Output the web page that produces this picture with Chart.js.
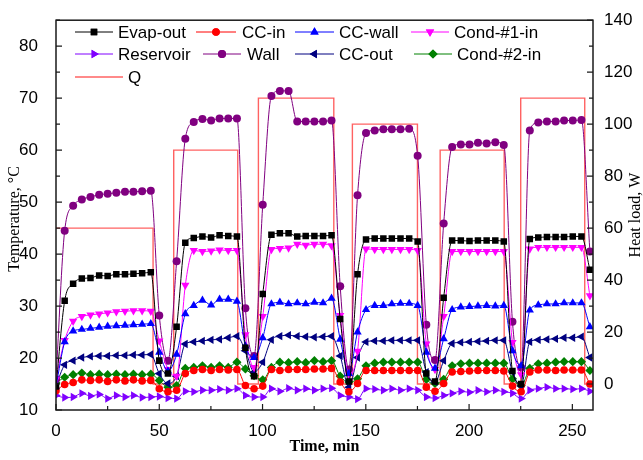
<!DOCTYPE html>
<html>
<head>
<meta charset="utf-8">
<script src="https://cdn.jsdelivr.net/npm/chart.js"></script>
<style>
  html, body { margin: 0; padding: 0; background: #fff; }
  #wrap { width: 643px; height: 460px; }
</style>
</head>
<body>
<div id="wrap"><canvas id="chart" width="643" height="460"></canvas></div>
<script>
// sample times, min
const time = [0, 4.2, 8.3, 12.5, 16.7, 20.9, 25.0, 29.2, 33.4, 37.5, 41.7, 45.9, 50.0, 54.2, 58.4, 62.6,
  66.7, 70.9, 75.1, 79.2, 83.4, 87.6, 91.7, 95.9, 100.1, 104.3, 108.4, 112.6, 116.8, 120.9, 125.1, 129.3,
  133.4, 137.6, 141.8, 146.0, 150.1, 154.3, 158.5, 162.6, 166.8, 171.0, 175.1, 179.3, 183.5, 187.7, 191.8,
  196.0, 200.2, 204.3, 208.5, 212.7, 216.8, 221.0, 225.2, 229.4, 233.5, 237.7, 241.9, 246.0, 250.2, 254.4, 258.5];

// temperatures, °C
const evapOut = [14.5, 31.0, 34.3, 35.3, 35.4, 35.9, 35.8, 36.1, 36.1, 36.2, 36.3, 36.5, 19.5, 17.0, 26.0, 42.2,
  43.1, 43.4, 43.2, 43.6, 43.5, 43.4, 22.0, 16.5, 32.3, 43.7, 44.0, 44.0, 43.4, 43.5, 43.5, 43.5,
  43.6, 27.5, 15.5, 36.1, 42.8, 43.0, 43.0, 43.0, 43.0, 43.0, 42.4, 17.0, 15.5, 31.6, 42.6,
  42.6, 42.5, 42.6, 42.6, 42.6, 42.4, 17.5, 15.0, 42.9, 43.2, 43.3, 43.3, 43.3, 43.4, 43.4, 37.0];
const ccIn = [13.7, 14.9, 15.3, 15.8, 15.7, 15.8, 15.5, 15.8, 15.6, 15.8, 15.6, 15.7, 14.1, 13.5, 13.8, 17.0,
  17.6, 17.8, 17.6, 17.8, 17.7, 17.8, 14.7, 14.1, 14.6, 17.8, 17.6, 17.8, 17.8, 17.8, 17.9, 17.9,
  18.0, 15.4, 13.5, 15.1, 17.6, 17.6, 17.6, 17.6, 17.6, 17.6, 17.6, 14.4, 13.6, 15.1, 17.3,
  17.4, 17.5, 17.6, 17.6, 17.6, 17.5, 14.6, 13.5, 17.3, 17.7, 17.7, 17.6, 17.7, 17.7, 17.7, 15.0];
const ccWall = [14.5, 23.1, 25.2, 25.5, 25.7, 25.9, 26.1, 26.2, 26.3, 26.4, 26.5, 26.6, 21.1, 17.5, 20.7, 28.5,
  30.1, 31.1, 30.2, 31.3, 31.3, 30.9, 22.3, 20.1, 23.9, 30.4, 30.7, 30.4, 30.6, 30.4, 30.7, 30.6,
  31.5, 23.6, 17.0, 25.0, 29.3, 30.1, 30.1, 30.4, 30.5, 30.5, 30.1, 21.1, 18.0, 23.7, 29.3,
  29.8, 29.9, 30.0, 30.1, 30.0, 30.1, 21.4, 18.5, 29.2, 30.2, 30.4, 30.4, 30.6, 30.6, 30.6, 26.0];
const cond1In = [16.0, 23.4, 27.1, 28.0, 28.3, 28.5, 28.7, 28.9, 29.0, 29.1, 29.1, 29.0, 23.3, 17.8, 16.5, 34.0,
  40.7, 40.5, 40.6, 40.8, 40.7, 40.7, 24.5, 18.2, 28.0, 40.9, 41.1, 41.2, 41.9, 41.7, 41.9, 41.9,
  41.6, 28.2, 16.8, 21.3, 41.0, 40.9, 40.9, 40.9, 40.9, 40.9, 40.7, 22.7, 17.8, 28.0, 40.5,
  40.5, 40.5, 40.5, 40.5, 40.5, 40.5, 23.0, 16.8, 41.0, 41.3, 41.3, 41.3, 41.3, 41.3, 41.3, 32.0];
const reservoir = [12.8, 12.4, 12.5, 13.2, 12.7, 13.0, 12.2, 12.8, 12.5, 12.8, 12.4, 12.5, 12.6, 12.3, 12.2, 13.6,
  13.5, 13.8, 13.8, 14.0, 13.8, 14.1, 12.8, 12.5, 12.5, 14.1, 13.6, 14.2, 13.8, 14.1, 13.8, 14.1,
  14.2, 12.8, 12.5, 12.1, 14.1, 14.0, 13.8, 14.1, 13.8, 14.1, 13.8, 12.5, 12.3, 12.8, 13.2,
  13.6, 13.4, 13.8, 13.5, 13.8, 13.5, 13.2, 12.2, 13.8, 14.1, 14.4, 14.1, 14.1, 14.0, 14.1, 13.6];
const wall = [15.9, 44.5, 49.3, 50.5, 51.0, 51.4, 51.6, 51.8, 52.0, 52.0, 52.1, 52.2, 28.2, 19.5, 38.6, 62.2,
  65.4, 66.0, 65.7, 66.1, 66.1, 66.1, 29.6, 20.4, 49.5, 70.4, 71.4, 71.4, 65.5, 65.5, 65.5, 65.5,
  65.7, 33.8, 17.8, 51.3, 63.3, 63.8, 64.0, 64.0, 64.0, 64.1, 58.9, 26.4, 19.6, 45.9, 60.6,
  61.1, 61.1, 61.4, 61.3, 61.5, 61.0, 27.0, 18.2, 63.8, 65.3, 65.5, 65.5, 65.7, 65.7, 65.8, 40.5];
const ccOut = [14.7, 18.7, 19.5, 20.1, 20.3, 20.4, 20.4, 20.5, 20.5, 20.6, 20.6, 20.7, 17.0, 15.1, 16.5, 22.7,
  23.1, 23.3, 23.5, 23.6, 23.9, 24.2, 21.4, 17.3, 19.2, 23.5, 24.2, 24.4, 24.2, 24.1, 24.0, 24.1,
  24.2, 20.4, 14.4, 20.1, 23.1, 23.3, 23.3, 23.4, 23.4, 23.4, 23.4, 17.3, 15.4, 19.5, 22.8,
  23.0, 23.1, 23.2, 23.3, 23.4, 23.4, 17.3, 14.6, 23.1, 23.5, 23.6, 23.7, 23.9, 23.9, 24.1, 20.1];
const cond2In = [15.2, 16.3, 16.8, 17.1, 16.8, 16.9, 16.8, 16.9, 16.8, 16.9, 16.8, 16.9, 15.7, 14.4, 14.7, 18.0,
  18.2, 18.5, 18.2, 18.5, 18.2, 19.2, 17.9, 16.6, 15.8, 18.2, 19.2, 19.1, 19.3, 19.1, 19.5, 19.3,
  19.5, 16.5, 15.4, 16.0, 18.5, 19.0, 19.2, 19.2, 19.2, 19.2, 19.2, 15.9, 15.1, 15.9, 18.5,
  18.9, 19.0, 19.0, 19.0, 19.0, 19.0, 16.0, 14.7, 18.0, 18.9, 19.0, 19.2, 19.3, 19.3, 19.3, 17.6];

// heat load steps, W
const qTime = [0, 47, 47, 57, 57, 88, 88, 98, 98, 134.5, 134.5, 143.5, 143.5, 175, 175, 186, 186, 217, 217, 225, 225, 256, 256, 260];
const qLoad = [60, 60, 0, 0, 90, 90, 0, 0, 110, 110, 0, 0, 100, 100, 0, 0, 90, 90, 0, 0, 110, 110, 0, 0];

// axis ticks
const timeTicks = [0, 50, 100, 150, 200, 250];
const tempTicks = [10, 20, 30, 40, 50, 60, 70, 80];
const loadTicks = [0, 20, 40, 60, 80, 100, 120, 140];

const SANS = '"Liberation Sans", Arial, sans-serif';
const SERIF = '"Liberation Serif", "Times New Roman", serif';

function pts(ys) {
  return ys.map((y, i) => ({ x: time[i], y: y }));
}

function series(label, ys, color, style, rotation, radius) {
  return {
    label: label,
    data: pts(ys),
    yAxisID: 'y',
    borderColor: color,
    backgroundColor: color,
    borderWidth: 1,
    pointStyle: style,
    rotation: rotation,
    pointRadius: radius,
    pointBorderWidth: 0,
    pointBackgroundColor: color,
    cubicInterpolationMode: 'monotone',
  };
}

const datasets = [
  series('Evap-out', evapOut, '#000000', 'rect', 0, 4.6),
  series('CC-in', ccIn, '#ff0000', 'circle', 0, 3.8),
  series('CC-wall', ccWall, '#0000ff', 'triangle', 0, 4.8),
  series('Cond-#1-in', cond1In, '#ff00ff', 'triangle', 180, 4.8),
  series('Reservoir', reservoir, '#8000ff', 'triangle', 90, 4.8),
  series('Wall', wall, '#800080', 'circle', 0, 4.0),
  series('CC-out', ccOut, '#000080', 'triangle', 270, 4.8),
  series('Cond-#2-in', cond2In, '#008000', 'rectRot', 0, 4.6),
  {
    label: 'Q',
    data: qTime.map((t, i) => ({ x: t, y: qLoad[i] })),
    yAxisID: 'y1',
    borderColor: 'rgba(255, 70, 70, 0.85)',
    borderWidth: 1.4,
    pointRadius: 0,
    tension: 0,
  },
];

// legend rows: [dataset index, line start, line end, text x, y]
const legendLayout = [
  [0, 75, 113, 118, 32], [1, 196, 236, 242, 32], [2, 295, 334, 339, 32], [3, 411, 449, 454, 32],
  [4, 75, 113, 118, 54], [5, 203, 241, 247, 54], [6, 295, 334, 339, 54], [7, 414, 452, 457, 54],
  [8, 75, 123, 128, 77],
];

const framePlugin = {
  id: 'frame',
  afterDraw(chart) {
    const ctx = chart.ctx;
    const a = chart.chartArea;
    const sx = chart.scales.x, sy = chart.scales.y, sy1 = chart.scales.y1;
    ctx.save();

    // box
    ctx.strokeStyle = '#1a1a1a';
    ctx.lineWidth = 1.5;
    ctx.strokeRect(a.left, a.top, a.right - a.left, a.bottom - a.top);

    // inward ticks, major and minor
    ctx.lineWidth = 1.2;
    ctx.beginPath();
    for (let v = 0; v <= 260; v += 25) {
      const p = sx.getPixelForValue(v);
      const len = v % 50 === 0 ? 6 : 4;
      ctx.moveTo(p, a.bottom); ctx.lineTo(p, a.bottom - len);
    }
    for (let v = 10; v <= 85; v += 5) {
      const p = sy.getPixelForValue(v);
      const len = v % 10 === 0 ? 6 : 4;
      ctx.moveTo(a.left, p); ctx.lineTo(a.left + len, p);
    }
    for (let v = 0; v <= 140; v += 10) {
      const p = sy1.getPixelForValue(v);
      const len = v % 20 === 0 ? 6 : 4;
      ctx.moveTo(a.right, p); ctx.lineTo(a.right - len, p);
    }
    ctx.stroke();

    // axis titles
    ctx.fillStyle = '#000';
    ctx.textAlign = 'center';
    ctx.textBaseline = 'middle';
    ctx.font = 'bold 16px ' + SERIF;
    ctx.fillText('Time, min', (a.left + a.right) / 2, 447);
    ctx.font = '16px ' + SERIF;
    ctx.save();
    ctx.translate(15, 219);
    ctx.rotate(-Math.PI / 2);
    ctx.fillText('Temperature, \u00b0C', 0, 0);
    ctx.restore();
    ctx.save();
    ctx.translate(636, 215);
    ctx.rotate(-Math.PI / 2);
    ctx.fillText('Heat load, W', 0, 0);
    ctx.restore();

    // legend
    ctx.font = '17px ' + SANS;
    ctx.textAlign = 'left';
    legendLayout.forEach(([i, x0, x1, tx, y]) => {
      const ds = chart.data.datasets[i];
      ctx.strokeStyle = ds.borderColor;
      ctx.lineWidth = ds.borderWidth;
      ctx.beginPath();
      ctx.moveTo(x0, y); ctx.lineTo(x1, y);
      ctx.stroke();
      if (ds.pointRadius > 0) {
        ctx.fillStyle = ds.backgroundColor;
        Chart.helpers.drawPoint(ctx, {
          pointStyle: ds.pointStyle, rotation: ds.rotation, radius: ds.pointRadius, borderWidth: 0,
        }, (x0 + x1) / 2, y);
        ctx.fill();
      }
      ctx.fillStyle = '#000';
      ctx.fillText(ds.label, tx, y + 1);
    });
    ctx.restore();
  }
};

new Chart(document.getElementById('chart'), {
  type: 'line',
  data: { datasets: datasets },
  options: {
    responsive: false,
    animation: false,
    devicePixelRatio: 1,
    layout: { autoPadding: false, padding: { top: 15, left: 0, right: 0, bottom: 0 } },
    plugins: { legend: { display: false }, tooltip: { enabled: false } },
    scales: {
      x: {
        type: 'linear', min: 0, max: 260,
        grid: { display: false }, border: { display: false },
        afterBuildTicks: s => { s.ticks = timeTicks.map(v => ({ value: v })); },
        afterFit: s => { s.height = 50; },
        ticks: { color: '#000', font: { family: SANS, size: 17 }, padding: 3, maxRotation: 0 },
      },
      y: {
        type: 'linear', position: 'left', min: 10, max: 85,
        grid: { display: false }, border: { display: false },
        afterBuildTicks: s => { s.ticks = tempTicks.map(v => ({ value: v })); },
        afterFit: s => { s.width = 56; },
        ticks: { color: '#000', font: { family: SANS, size: 17 }, padding: 10 },
      },
      y1: {
        type: 'linear', position: 'right', min: -10, max: 140,
        grid: { display: false }, border: { display: false },
        afterBuildTicks: s => { s.ticks = loadTicks.map(v => ({ value: v })); },
        afterFit: s => { s.width = 50; },
        ticks: { color: '#000', font: { family: SANS, size: 17 }, padding: 3 },
      },
    },
  },
  plugins: [framePlugin],
});
</script>
</body>
</html>
